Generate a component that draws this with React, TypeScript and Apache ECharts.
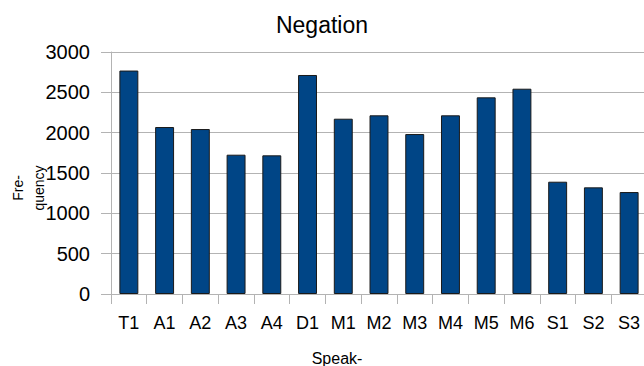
import React, { useEffect, useRef } from "react";
import * as echarts from "echarts";

// Negation counts per speaker
const speakers = ["T1", "A1", "A2", "A3", "A4", "D1", "M1", "M2", "M3", "M4", "M5", "M6", "S1", "S2", "S3"];
const negationCounts = [2770, 2070, 2045, 1727, 1719, 2715, 2173, 2215, 1983, 2215, 2438, 2545, 1392, 1322, 1264];
const yTicks = { min: 0, max: 3000, interval: 500 };

const FONT = "'Liberation Sans', Arial, sans-serif";
const GRID_GREY = "#b3b3b3";

export default function App() {
  const ref = useRef<HTMLDivElement>(null);

  useEffect(() => {
    if (!ref.current) return;
    const chart = echarts.init(ref.current, undefined, { renderer: "svg" });
    chart.setOption({
      animation: false,
      backgroundColor: "#ffffff",
      title: {
        text: "Negation",
        left: "center",
        top: 8,
        textStyle: { fontFamily: FONT, fontSize: 23, fontWeight: "normal", color: "#000" },
      },
      grid: { left: 111, top: 52, bottom: 72, right: -3, outerBoundsMode: "none" },
      xAxis: {
        type: "category",
        data: speakers,
        axisLine: { show: true, lineStyle: { color: GRID_GREY } },
        axisTick: { show: true, length: 10, lineStyle: { color: GRID_GREY } },
        axisLabel: { fontFamily: FONT, fontSize: 18, color: "#000", margin: 20, interval: 0 },
      },
      yAxis: {
        type: "value",
        min: yTicks.min,
        max: yTicks.max,
        interval: yTicks.interval,
        axisLine: { show: true, lineStyle: { color: GRID_GREY } },
        axisTick: { show: true, length: 10, lineStyle: { color: GRID_GREY } },
        splitLine: { show: true, lineStyle: { color: GRID_GREY } },
        axisLabel: {
          fontFamily: FONT,
          fontSize: 20,
          color: "#000",
          margin: 21,
          formatter: (v: number) => String(v),
        },
      },
      graphic: [
        {
          type: "text",
          x: 28,
          y: 188,
          rotation: Math.PI / 2,
          style: {
            text: "Fre-\nquency",
            fontFamily: FONT,
            fontSize: 14,
            lineHeight: 21,
            fill: "#000",
            align: "center",
            verticalAlign: "middle",
          },
        },
        {
          type: "text",
          x: 337,
          y: 358,
          style: {
            text: "Speak-",
            fontFamily: FONT,
            fontSize: 16,
            fill: "#000",
            align: "center",
            verticalAlign: "middle",
          },
        },
      ],
      series: [
        {
          type: "bar",
          data: negationCounts,
          barWidth: "53%",
          itemStyle: { color: "#004586", borderColor: "#1a1a1a", borderWidth: 1 },
        },
      ],
    });
    return () => chart.dispose();
  }, []);

  return (
    <div
      ref={ref}
      style={{ position: "absolute", left: 0, top: 0, width: 644, height: 366 }}
    />
  );
}
